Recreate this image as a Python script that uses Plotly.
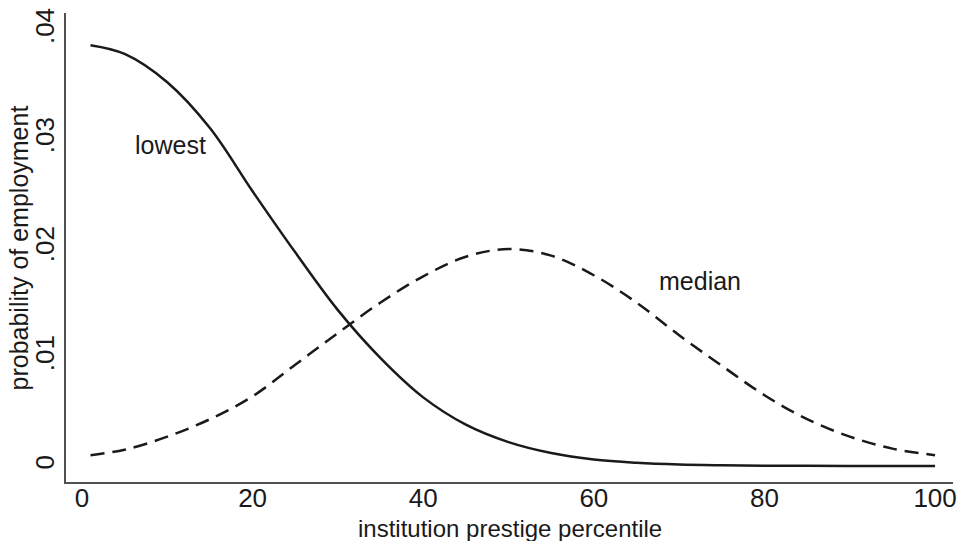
import plotly.graph_objects as go

# institution prestige percentile
x_pct = [1, 5, 10, 15, 20, 25, 30, 35, 40, 45, 50, 55, 60, 65, 70, 75, 80, 85, 90, 95, 100]
# probability of employment, "lowest" series (solid)
p_lowest = [0.0386, 0.0378, 0.0352, 0.0310, 0.0252, 0.0196, 0.0143, 0.0099, 0.0063, 0.0038,
            0.0022, 0.0012, 0.0006, 0.0003, 0.00014, 0.00007, 0.00003, 0.00002, 0.00001,
            0.00001, 0.000005]
# probability of employment, "median" series (dashed)
p_median = [0.0010, 0.0015, 0.0027, 0.0043, 0.0064, 0.0093, 0.0122, 0.0150, 0.0174, 0.0192,
            0.0199, 0.0193, 0.0175, 0.0150, 0.0120, 0.0092, 0.0065, 0.0043, 0.0027, 0.0016,
            0.0010]

x_ticks = [0, 20, 40, 60, 80, 100]
x_ticklabels = ["0", "20", "40", "60", "80", "100"]
y_ticks = [0, 0.01, 0.02, 0.03, 0.04]
y_ticklabels = ["0", ".01", ".02", ".03", ".04"]

FONT = "Liberation Sans, Arial, sans-serif"
INK = "#1a1a1a"

fig = go.Figure()
fig.add_trace(go.Scatter(x=x_pct, y=p_lowest, mode="lines", name="lowest",
                         line=dict(color=INK, width=2.5, shape="spline")))
fig.add_trace(go.Scatter(x=x_pct, y=p_median, mode="lines", name="median",
                         line=dict(color=INK, width=2.5, shape="spline", dash="14px,8px")))

fig.add_annotation(x=10.4, y=0.0294, text="lowest", showarrow=False,
                   font=dict(family=FONT, size=25, color=INK))
fig.add_annotation(x=72.4, y=0.0170, text="median", showarrow=False,
                   font=dict(family=FONT, size=25, color=INK))

# axis titles
fig.add_annotation(xref="paper", yref="paper", x=0.5, y=-0.1, xanchor="center",
                   yanchor="middle", text="institution prestige percentile", showarrow=False,
                   font=dict(family=FONT, size=24, color=INK))
fig.add_annotation(xref="paper", yref="paper", x=-0.053, y=0.5, xanchor="center",
                   yanchor="middle", textangle=-90, text="probability of employment",
                   showarrow=False, font=dict(family=FONT, size=25, color=INK))

fig.update_layout(
    width=965, height=541,
    margin=dict(l=66, r=8, t=10, b=59),
    plot_bgcolor="white", paper_bgcolor="white",
    showlegend=False,
    font=dict(family=FONT, size=25, color=INK),
)
fig.update_xaxes(
    range=[-1.87, 102.1], tickvals=x_ticks, ticktext=x_ticklabels,
    showgrid=False, zeroline=False, showline=True, linecolor="#505050", linewidth=2,
    ticks="", ticklabelstandoff=-8, tickfont=dict(size=26),
)
fig.update_yaxes(
    range=[-0.00146, 0.04155], tickvals=y_ticks, ticktext=y_ticklabels,
    showgrid=False, zeroline=False, showline=True, linecolor="#505050", linewidth=2,
    ticks="", tickangle=-90, ticklabelstandoff=0, tickfont=dict(size=26),
)

fig.write_html("out.html")
